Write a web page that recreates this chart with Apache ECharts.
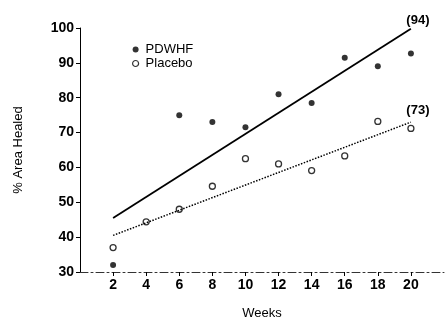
<!DOCTYPE html>
<html>
<head>
<meta charset="utf-8">
<script src="https://cdn.jsdelivr.net/npm/echarts@6/dist/echarts.min.js"></script>
<style>
  html, body { margin: 0; padding: 0; background: #fff; }
  #chart { width: 445px; height: 325px; }
</style>
</head>
<body>
<div id="chart"></div>
<script>
// 数据
const weeks = [2, 4, 6, 8, 10, 12, 14, 16, 18, 20]
const pdwhf = [32, null, 75, 73, 71.5, 81, 78.5, 91.5, 89, 92.7]
const placebo = [37, 44.4, 48, 54.6, 62.5, 61, 59.1, 63.3, 73.2, 71.2]
// 回归线端点
const fitWeeks = [2, 20]
const pdwhfFit = [45.5, 99.8]
const placeboFit = [40.5, 73]
const endLabels = ['(94)', '(73)']
const yTicks = [30, 40, 50, 60, 70, 80, 90, 100]

const font = 'Liberation Sans, Arial, sans-serif'
const pairs = (xs, ys) => xs.map((x, i) => [x, ys[i]]).filter(p => p[1] != null)

const myChart = echarts.init(document.getElementById('chart'))
myChart.setOption({
  animation: false,
  textStyle: {fontFamily: font, color: '#000'},
  grid: {left: 80, right: 1, top: 28, bottom: 49},
  legend: {
    orient: 'vertical',
    left: 127,
    top: 38,
    itemWidth: 6,
    itemHeight: 6,
    itemGap: 1,
    textStyle: {fontSize: 13, color: '#000', fontFamily: font, padding: [0, 0, 0, 2]},
    data: [
      {name: 'PDWHF', icon: 'circle', itemStyle: {color: '#000'}},
      {name: 'Placebo', icon: 'circle', itemStyle: {color: '#fff', borderColor: '#000', borderWidth: 1.2}}
    ]
  },
  xAxis: {
    type: 'value',
    min: 0,
    max: 22,
    interval: 2,
    name: 'Weeks',
    nameLocation: 'middle',
    nameGap: 35,
    nameTextStyle: {fontSize: 13, color: '#000'},
    splitLine: {show: false},
    axisLine: {onZero: false, lineStyle: {color: '#333', width: 1, type: [8, 3, 2, 3]}},
    axisTick: {customValues: weeks, length: 4, lineStyle: {color: '#000'}},
    axisLabel: {customValues: weeks, fontSize: 14, fontWeight: 'bold', color: '#000', margin: 6}
  },
  yAxis: {
    type: 'value',
    min: 30,
    max: 100,
    interval: 10,
    name: '% Area Healed',
    nameLocation: 'middle',
    nameGap: 55,
    nameTextStyle: {fontSize: 13, color: '#000'},
    splitLine: {show: false},
    axisLine: {lineStyle: {color: '#000', width: 1}},
    axisTick: {length: 4, lineStyle: {color: '#000'}},
    axisLabel: {customValues: yTicks, fontSize: 14, fontWeight: 'bold', color: '#000', margin: 6}
  },
  series: [
    {
      name: 'PDWHF',
      type: 'scatter',
      symbol: 'circle',
      symbolSize: 6,
      itemStyle: {color: '#000'},
      data: pairs(weeks, pdwhf)
    },
    {
      name: 'Placebo',
      type: 'scatter',
      symbol: 'circle',
      symbolSize: 6,
      itemStyle: {color: '#fff', borderColor: '#000', borderWidth: 1.3},
      data: pairs(weeks, placebo)
    },
    {
      type: 'line',
      symbol: 'none',
      lineStyle: {color: '#000', width: 1.8},
      data: pairs(fitWeeks, pdwhfFit),
      markPoint: {
        symbol: 'circle', symbolSize: 0,
        label: {show: true, formatter: endLabels[0], fontSize: 13, fontWeight: 'bold', color: '#000', offset: [7, -8]},
        data: [{coord: [fitWeeks[1], pdwhfFit[1]]}]
      }
    },
    {
      type: 'line',
      symbol: 'none',
      lineStyle: {color: '#000', width: 1.5, type: [1.5, 1.5]},
      data: pairs(fitWeeks, placeboFit),
      markPoint: {
        symbol: 'circle', symbolSize: 0,
        label: {show: true, formatter: endLabels[1], fontSize: 13, fontWeight: 'bold', color: '#000', offset: [7, -12]},
        data: [{coord: [fitWeeks[1], placeboFit[1]]}]
      }
    }
  ]
})
</script>
</body>
</html>
